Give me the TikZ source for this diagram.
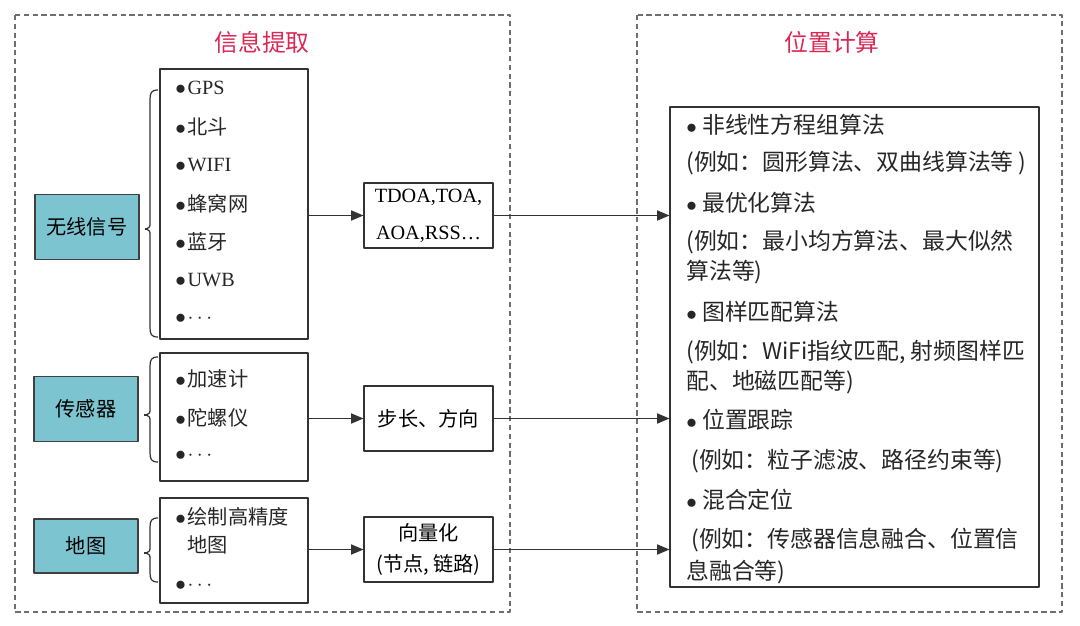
\documentclass[tikz,border=0pt]{standalone}
\usepackage{fontspec}
\setmainfont{Liberation Serif}
\newfontfamily\cjk{Noto Sans CJK SC}
\usetikzlibrary{positioning,arrows}
\definecolor{titlered}{RGB}{218,40,84}
\definecolor{signalblue}{RGB}{124,196,208}
\definecolor{frameline}{RGB}{110,110,110}
\newcommand{\bul}{$\bullet$\hspace{1pt}}
\newcommand{\algbul}{$\bullet$\hspace{3pt}}
\newcommand{\more}{$\cdots$}
\tikzset{
  dashframe/.style={draw=frameline, densely dashed, line width=0.6pt},
  title/.style={text=titlered, inner sep=0pt, font=\cjk\fontsize{13.5}{16}\selectfont},
  srcbox/.style={draw=black!75, fill=signalblue, line width=0.8pt, minimum width=2.08cm,
    inner sep=0pt, font=\cjk\fontsize{11.5}{14}\selectfont},
  listbox/.style={draw=black!80, line width=0.7pt, minimum width=2.96cm, inner sep=0pt},
  midbox/.style={draw=black!80, line width=0.7pt, minimum width=2.58cm, minimum height=1.3cm,
    inner sep=0pt, align=center, font=\fontsize{11.5}{21}\selectfont},
  item/.style={anchor=west, inner sep=0pt, text=black!85, font=\fontsize{11.5}{14}\selectfont},
  algline/.style={anchor=west, inner sep=0pt, text=black!85, font=\cjk\fontsize{13}{15}\selectfont},
  brace/.style={draw=black!80, line width=0.7pt},
  link/.style={draw=black!80, line width=0.6pt, -triangle 45}
}
\begin{document}
\begin{tikzpicture}[x=0.02cm, y=-0.02cm, line join=round]
  \useasboundingbox (0,0) rectangle (1080,626);

  % two dashed frames with their titles
  \draw[dashframe] (15,15) rectangle (510,612);
  \draw[dashframe] (637,15) rectangle (1062,612);
  \node[title] (t1) at (262,42) {信息提取};
  \node[title] (t2) at (832,42) {位置计算};

  % sources
  \node[srcbox, minimum height=1.3cm]  (wx) at (87,227) {无线信号};
  \node[srcbox, minimum height=1.3cm]  (cg) at (86,409) {传感器};
  \node[srcbox, minimum height=1.08cm] (dt) at (86,546) {地图};

  % lists
  \node[listbox, minimum height=5.4cm]  (l1) at (234,204) {};
  \node[listbox, minimum height=2.56cm] (l2) at (234,417) {};
  \node[listbox, minimum height=2.1cm]  (l3) at (234,550.5) {};

  \foreach \i/\txt in {1/GPS, 2/{\cjk 北斗}, 3/WIFI, 4/{\cjk 蜂窝网}, 5/{\cjk 蓝牙}, 6/UWB, 7/\more}
    \node[item] (a\i) at (175,{88+38.5*(\i-1)}) {\bul\txt};
  \foreach \i/\y/\txt in {1/379/{\bul\cjk 加速计}, 2/418/{\bul\cjk 陀螺仪}, 3/456/{\bul\more}}
    \node[item] (b\i) at (175,\y) {\txt};
  \foreach \i/\y/\txt in {1/517/{\bul\cjk 绘制高精度}, 2/545/{\phantom{\bul}\cjk 地图}, 3/586/{\bul\more}}
    \node[item] (c\i) at (175,\y) {\txt};

  % braces
  \foreach \n/\ya/\yb/\yc in {1/90/229/337, 2/357/415/462, 3/518/553/582}
    \draw[brace] (158,\ya) .. controls (151,\ya) and (150,{\ya+3}) .. (150,{\ya+10})
      -- (150,{\yb-6}) .. controls (150,{\yb-2}) .. (146,\yb) coordinate (tip\n)
      .. controls (150,{\yb+2}) .. (150,{\yb+6})
      -- (150,{\yc-10}) .. controls (150,{\yc-3}) and (151,\yc) .. (158,\yc);
  \foreach \s/\n in {wx/1, cg/2, dt/3}
    \draw[brace, shorten <=0.1cm] (\s.east |- tip\n) -- (tip\n);

  % extracted features
  \node[midbox] (m1) at (428.5,215.5) {TDOA,TOA,\\AOA,RSS…};
  \node[midbox, font=\cjk\fontsize{11.5}{14}\selectfont] (m2) at (428.5,418.5) {步长、方向};
  \node[midbox, font=\cjk\fontsize{11.5}{18}\selectfont] (m3) at (428.5,549.5) {向量化\\(节点, 链路)};

  % algorithms
  \node[listbox, minimum width=7.38cm, minimum height=9.6cm] (r) at (854.5,347) {};
  \foreach \i/\x/\y/\txt in {
      1/686/125/{\algbul 非线性方程组算法},
      2/686/163/{(例如：圆形算法、双曲线算法等 )},
      3/686/203/{\algbul 最优化算法},
      4/686/242/{(例如：最小均方算法、最大似然},
      5/686/272/{算法等)},
      6/686/312/{\algbul 图样匹配算法},
      7/686/352/{(例如：WiFi指纹匹配, 射频图样匹},
      8/686/382/{配、地磁匹配等)},
      9/686/420/{\algbul 位置跟踪},
      10/691/461/{(例如：粒子滤波、路径约束等)},
      11/686/500/{\algbul 混合定位},
      12/691/540/{(例如：传感器信息融合、位置信},
      13/686/572/{息融合等)}}
    \node[algline] (r\i) at (\x,\y) {\txt};

  % arrows
  \draw[link] (l1.east |- m1) -- (m1.west);
  \draw[link] (l2.east |- m2) -- (m2.west);
  \draw[link] (l3.east |- m3) -- (m3.west);
  \draw[link] (m1.east) -- (r.west |- m1.east);
  \draw[link] (m2.east) -- (r.west |- m2.east);
  \draw[link] (m3.east) -- (r.west |- m3.east);
\end{tikzpicture}
\end{document}
